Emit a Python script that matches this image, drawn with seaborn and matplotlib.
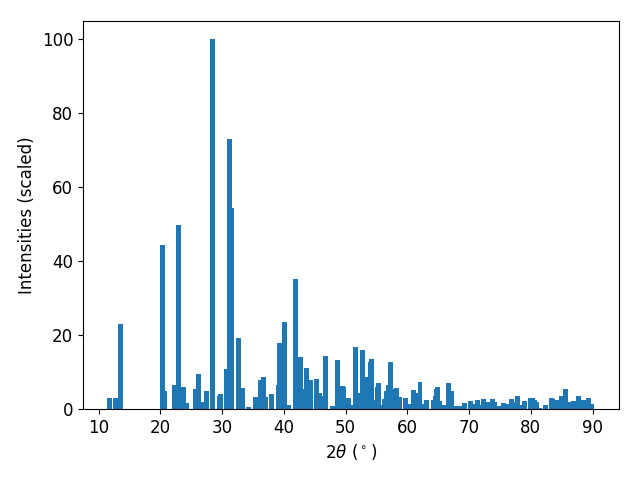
import numpy as np
import pandas as pd
import seaborn as sns
import matplotlib
matplotlib.use("Agg")
import matplotlib.pyplot as plt

# diffraction peaks: 2theta positions (degrees) and scaled intensities
two_theta = [
    11.78, 12.70, 13.51, 20.36, 20.69, 22.31, 22.96, 23.77, 24.25, 25.71,
    26.19, 26.92, 27.49, 28.46, 29.52, 29.76, 30.73, 31.21, 31.54, 32.67,
    33.32, 34.29, 35.42, 36.23, 36.72, 37.04, 38.02, 39.22, 39.31, 40.12,
    40.80, 41.90, 42.71, 43.20, 43.68, 44.33, 45.30, 45.80, 45.96, 46.76,
    47.90, 48.70, 49.51, 49.68, 50.49, 50.89, 51.62, 51.94, 52.75, 53.24,
    54.00, 54.21, 54.98, 55.14, 55.30, 55.75, 56.32, 56.64, 56.96, 57.29,
    57.45, 58.26, 58.75, 59.64, 60.20, 61.01, 61.74, 62.06, 62.63, 63.12,
    64.25, 64.57, 64.74, 64.90, 65.22, 65.87, 66.68, 67.17, 67.94, 68.46,
    69.27, 70.24, 70.57, 71.44, 71.68, 72.35, 73.04, 73.81, 74.09, 74.82,
    75.59, 76.07, 76.88, 77.12, 77.85, 78.16, 78.91, 79.96, 80.28, 80.61,
    80.93, 81.49, 82.33, 83.36, 83.52, 84.33, 84.98, 85.65, 86.13, 86.88,
    87.73, 88.54, 89.35, 89.76,
]
intensity = [
    3.0, 3.0, 23.1, 44.4, 4.9, 6.5, 49.7, 6.0, 1.6, 5.4,
    9.5, 1.9, 4.9, 100.0, 3.5, 4.0, 10.9, 73.0, 54.5, 19.3,
    5.7, 0.6, 3.2, 7.9, 8.7, 3.2, 4.0, 6.5, 17.9, 23.6,
    1.1, 35.3, 14.1, 5.4, 11.1, 7.9, 8.1, 4.3, 3.5, 14.4,
    0.8, 13.3, 6.2, 6.0, 3.0, 1.1, 16.8, 4.3, 16.0, 8.7,
    12.8, 13.6, 2.4, 6.0, 7.1, 1.0, 2.7, 4.9, 6.5, 12.8,
    5.4, 5.7, 3.2, 3.0, 1.3, 5.1, 4.3, 7.3, 1.3, 2.4,
    2.4, 3.5, 5.4, 6.0, 2.2, 1.1, 7.1, 4.9, 0.8, 0.8,
    1.6, 2.2, 1.4, 2.4, 1.1, 2.7, 1.9, 2.7, 1.9, 0.8,
    1.6, 1.4, 2.7, 1.9, 3.5, 1.1, 2.2, 3.0, 3.0, 2.4,
    1.9, 0.3, 1.1, 3.0, 2.7, 2.4, 3.5, 5.4, 1.9, 2.2,
    3.5, 2.4, 3.0, 1.4,
]

df = pd.DataFrame({"two_theta": two_theta, "intensity": intensity})

plt.rcParams["font.size"] = 12
fig, ax = plt.subplots(figsize=(6.4, 4.8), dpi=100)

# seaborn scales bar width by the smallest gap between positions
bar_width = 0.8
min_gap = np.min(np.diff(np.unique(df["two_theta"])))
sns.barplot(data=df, x="two_theta", y="intensity", native_scale=True,
            width=bar_width / min_gap, color="#1f77b4", saturation=1,
            errorbar=None, linewidth=0, ax=ax)

ax.set_xlim(7.49, 94.29)
ax.set_ylim(0, 105)
ax.set_xticks([10, 20, 30, 40, 50, 60, 70, 80, 90])
ax.set_yticks([0, 20, 40, 60, 80, 100])
ax.set_xlabel(r"$2\theta$ ($^\circ$)")
ax.set_ylabel("Intensities (scaled)")

fig.subplots_adjust(left=0.1297, right=0.9672, top=0.9563, bottom=0.1479)
fig.savefig("out.png")
